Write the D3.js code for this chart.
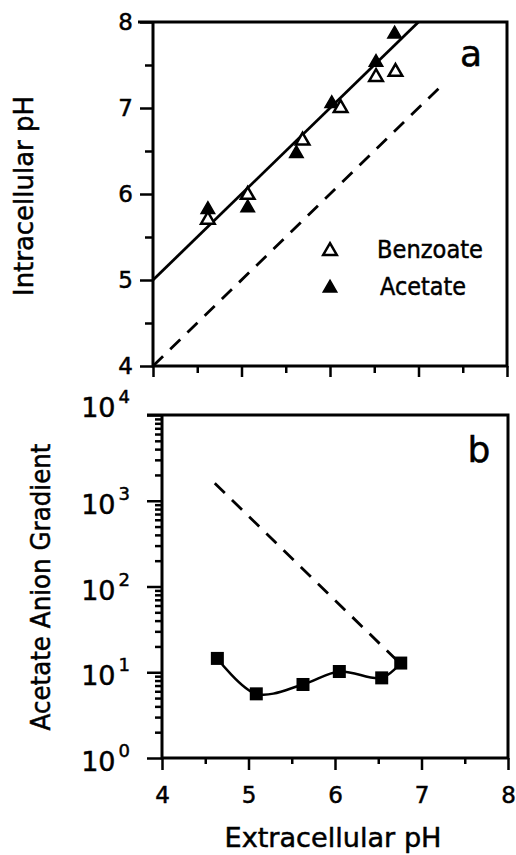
<!DOCTYPE html>
<html>
<head>
<meta charset="utf-8">
<script src="https://cdn.jsdelivr.net/npm/d3@7"></script>
<style>
  body { margin: 0; background: #fff; }
  text { font-family: "DejaVu Sans", sans-serif; fill: #000; stroke: #000; stroke-width: 0.5px; }
</style>
</head>
<body>
<div id="chart"></div>
<script>
// Panel a: intracellular vs extracellular pH
var benzoatePHo = [4.62, 5.07, 5.69, 6.12, 6.52, 6.74];
var benzoatePHi = [5.70, 5.99, 6.62, 7.00, 7.36, 7.42];
var acetatePHo = [4.62, 5.07, 5.62, 6.02, 6.52, 6.73];
var acetatePHi = [5.82, 5.84, 6.47, 7.05, 7.53, 7.86];
var fitPHo = [4, 7];
var fitPHi = [5, 8];
var unityPHo = [4, 7.27];
var unityPHi = [4, 7.27];

// Panel b: acetate anion gradient
var gradientPHo = [4.64, 5.09, 5.63, 6.05, 6.54, 6.76];
var gradient = [14.5, 5.6, 7.2, 10.2, 8.6, 12.8];
var predictedPHo = [4.61, 6.74];
var predicted = [1600, 13];

var pHTicks = [4, 5, 6, 7, 8];
var pHMinorTicks = [4.5, 5.5, 6.5, 7.5];
var logTicks = [1, 10, 100, 1000, 10000];
var logExponents = ["0", "1", "2", "3", "4"];

var svgWidth = 516;
var svgHeight = 855;

var svg = d3.select("#chart")
  .append("svg")
  .attr("width", svgWidth)
  .attr("height", svgHeight);

// scales
var xA = d3.scaleLinear().domain([4, 8]).range([153, 507]);
var yA = d3.scaleLinear().domain([4, 8]).range([366, 22]);
var xB = d3.scaleLinear().domain([4, 8]).range([162, 508]);
var yB = d3.scaleLog().domain([1, 10000]).range([758, 415]);

var minorLog = [];
logTicks.slice(0, -1).forEach(function(t) {
  for (var k = 2; k < 10; k++) minorLog.push(t * k);
});

function styleAxis(g, fontSize) {
  g.select(".domain").remove();
  g.selectAll(".tick line").attr("stroke", "#000").attr("stroke-width", 2.5);
  g.selectAll(".tick text").style("font-size", fontSize + "px").attr("fill", "#000");
}

// ===== Panel a =====
var gA = svg.append("g");

gA.append("g")
  .attr("transform", "translate(" + xA(4) + ",0)")
  .call(d3.axisLeft(yA).tickValues(pHMinorTicks).tickSize(8).tickFormat(""))
  .call(styleAxis, 23);

gA.append("g")
  .attr("transform", "translate(" + xA(4) + ",0)")
  .call(d3.axisLeft(yA).tickValues(pHTicks).tickSize(13).tickPadding(7).tickFormat(d3.format("d")))
  .call(styleAxis, 23);

gA.append("g")
  .attr("transform", "translate(0," + yA(4) + ")")
  .call(d3.axisBottom(xA).tickValues(pHTicks).tickSize(11).tickFormat(""))
  .call(styleAxis, 23);

gA.append("g")
  .attr("transform", "translate(0," + yA(4) + ")")
  .call(d3.axisBottom(xA).tickValues(pHMinorTicks).tickSize(7).tickFormat(""))
  .call(styleAxis, 23);

// frame
gA.append("path")
  .attr("d", "M" + (xA(4) - 15) + "," + yA(8) + "H" + xA(8) + "V" + yA(4) + "H" + xA(4) + "V" + yA(8))
  .attr("fill", "none")
  .attr("stroke", "#000")
  .attr("stroke-width", 3);

var lineA = d3.line().x(d => xA(d[0])).y(d => yA(d[1]));

gA.append("path")
  .datum(d3.zip(unityPHo, unityPHi))
  .attr("d", lineA)
  .attr("fill", "none")
  .attr("stroke", "#000")
  .attr("stroke-width", 2.8)
  .attr("stroke-dasharray", "14,10");

gA.append("path")
  .datum(d3.zip(fitPHo, fitPHi))
  .attr("d", lineA)
  .attr("fill", "none")
  .attr("stroke", "#000")
  .attr("stroke-width", 2.8);

var tri = d3.symbol().type(d3.symbolTriangle).size(80);

gA.selectAll(".acetate")
  .data(d3.zip(acetatePHo, acetatePHi))
  .enter()
  .append("path")
  .attr("class", "acetate")
  .attr("transform", d => "translate(" + xA(d[0]) + "," + yA(d[1]) + ")")
  .attr("d", tri)
  .attr("fill", "#000")
  .attr("stroke", "#000")
  .attr("stroke-width", 1.5);

gA.selectAll(".benzoate")
  .data(d3.zip(benzoatePHo, benzoatePHi))
  .enter()
  .append("path")
  .attr("class", "benzoate")
  .attr("transform", d => "translate(" + xA(d[0]) + "," + yA(d[1]) + ")")
  .attr("d", tri)
  .attr("fill", "#fff")
  .attr("stroke", "#000")
  .attr("stroke-width", 2.5);

// legend
gA.append("path")
  .attr("transform", "translate(330,251)")
  .attr("d", tri)
  .attr("fill", "#fff")
  .attr("stroke", "#000")
  .attr("stroke-width", 2.5);
gA.append("path")
  .attr("transform", "translate(330,288)")
  .attr("d", tri)
  .attr("fill", "#000")
  .attr("stroke", "#000")
  .attr("stroke-width", 1.5);
gA.append("text")
  .attr("x", 377).attr("y", 258)
  .attr("textLength", 106).attr("lengthAdjust", "spacingAndGlyphs")
  .style("font-size", "25px")
  .text("Benzoate");
gA.append("text")
  .attr("x", 380).attr("y", 295)
  .attr("textLength", 86).attr("lengthAdjust", "spacingAndGlyphs")
  .style("font-size", "25px")
  .text("Acetate");

gA.append("text")
  .attr("x", 471).attr("y", 66)
  .attr("text-anchor", "middle")
  .style("font-size", "36px")
  .text("a");

gA.append("text")
  .attr("transform", "translate(33," + ((yA(4) + yA(8)) / 2 + 2) + ") rotate(-90)")
  .attr("text-anchor", "middle")
  .attr("textLength", 200).attr("lengthAdjust", "spacingAndGlyphs")
  .style("font-size", "27px")
  .text("Intracellular pH");

// ===== Panel b =====
var gB = svg.append("g");

gB.append("g")
  .attr("transform", "translate(" + xB(4) + ",0)")
  .call(d3.axisLeft(yB).tickValues(minorLog).tickSize(7).tickFormat(""))
  .call(styleAxis, 23);

gB.append("g")
  .attr("transform", "translate(" + xB(4) + ",0)")
  .call(d3.axisLeft(yB).tickValues(logTicks).tickSize(15).tickFormat(""))
  .call(styleAxis, 23);

gB.append("g")
  .attr("transform", "translate(0," + yB(1) + ")")
  .call(d3.axisBottom(xB).tickValues(pHMinorTicks).tickSize(6).tickFormat(""))
  .call(styleAxis, 23);

gB.append("g")
  .attr("transform", "translate(0," + yB(1) + ")")
  .call(d3.axisBottom(xB).tickValues(pHTicks).tickSize(12).tickPadding(17).tickFormat(d3.format("d")))
  .call(styleAxis, 23);

// log tick labels: 10 with superscript exponent
var logLabels = gB.selectAll(".loglabel")
  .data(d3.zip(logTicks, logExponents))
  .enter()
  .append("text")
  .attr("class", "loglabel")
  .attr("x", 130)
  .attr("y", (d, i) => yB(d[0]) + (i === logTicks.length - 1 ? 2 : 13))
  .attr("text-anchor", "end");
logLabels.append("tspan")
  .style("font-size", "27px")
  .text("10");
logLabels.append("tspan")
  .attr("dx", 3)
  .attr("dy", -14)
  .style("font-size", "18px")
  .text(d => d[1]);

gB.append("path")
  .attr("d", "M" + (xB(4) - 15) + "," + yB(10000) + "H" + xB(8) + "V" + yB(1) + "H" + xB(4) + "V" + yB(10000))
  .attr("fill", "none")
  .attr("stroke", "#000")
  .attr("stroke-width", 3);

var lineB = d3.line().x(d => xB(d[0])).y(d => yB(d[1]));

gB.append("path")
  .datum(d3.zip(predictedPHo, predicted))
  .attr("d", lineB)
  .attr("fill", "none")
  .attr("stroke", "#000")
  .attr("stroke-width", 2.8)
  .attr("stroke-dasharray", "14,10");

gB.append("path")
  .datum(d3.zip(gradientPHo, gradient))
  .attr("d", d3.line().x(d => xB(d[0])).y(d => yB(d[1])).curve(d3.curveCatmullRom.alpha(0.5)))
  .attr("fill", "none")
  .attr("stroke", "#000")
  .attr("stroke-width", 2.5);

gB.selectAll(".sq")
  .data(d3.zip(gradientPHo, gradient))
  .enter()
  .append("rect")
  .attr("class", "sq")
  .attr("x", d => xB(d[0]) - 6.5)
  .attr("y", d => yB(d[1]) - 6.5)
  .attr("width", 13)
  .attr("height", 13)
  .attr("fill", "#000");

gB.append("text")
  .attr("x", 479).attr("y", 462)
  .attr("text-anchor", "middle")
  .style("font-size", "36px")
  .text("b");

gB.append("text")
  .attr("transform", "translate(50,587) rotate(-90)")
  .attr("text-anchor", "middle")
  .attr("textLength", 287).attr("lengthAdjust", "spacingAndGlyphs")
  .style("font-size", "27px")
  .text("Acetate Anion Gradient");

svg.append("text")
  .attr("x", 333).attr("y", 847)
  .attr("text-anchor", "middle")
  .attr("textLength", 217).attr("lengthAdjust", "spacingAndGlyphs")
  .style("font-size", "27px")
  .text("Extracellular pH");
</script>
</body>
</html>
